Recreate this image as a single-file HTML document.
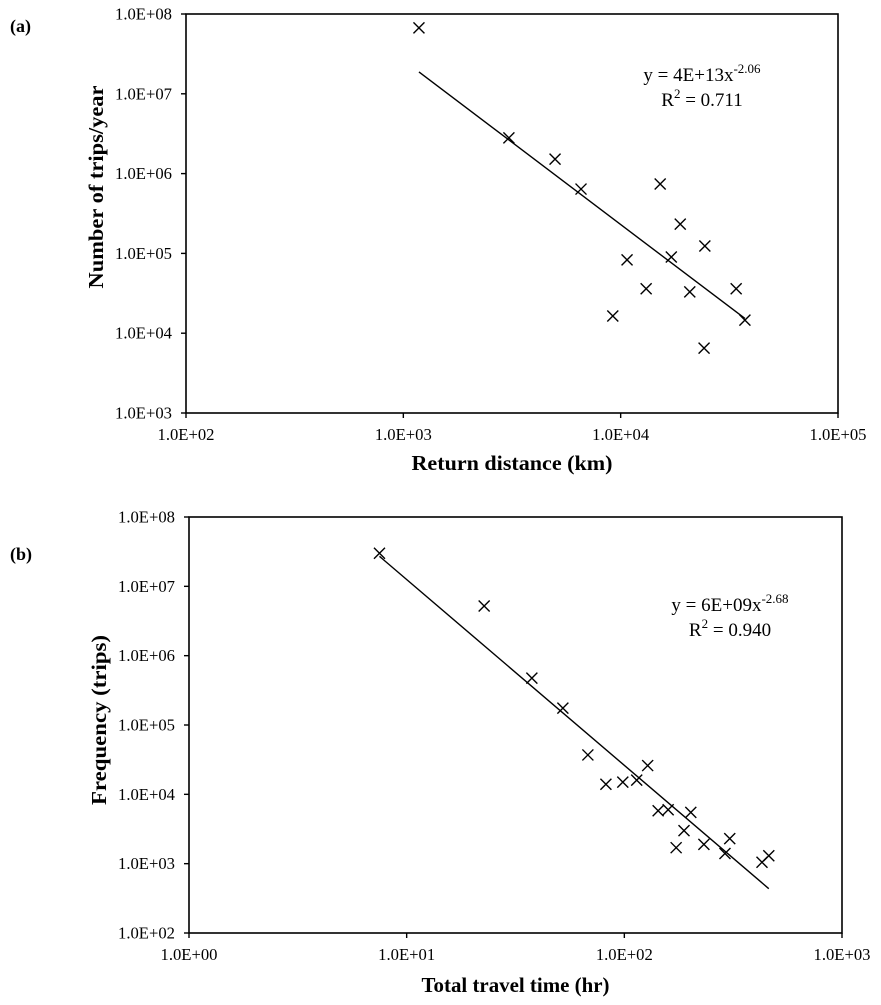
<!DOCTYPE html>
<html><head><meta charset="utf-8"><style>
html,body{margin:0;padding:0;background:#fff;}
svg text{font-family:"Liberation Serif",serif;fill:#000;}
</style></head><body>
<svg id="chart" width="881" height="1000" viewBox="0 0 881 1000" xmlns="http://www.w3.org/2000/svg"></svg>
<script>
// Panel (a) data
const aX = [1180, 3060, 4990, 6570, 15200, 18800, 24400, 17100, 10700, 13100, 20800, 34000, 37300, 9200, 24200];
const aY = [6.7e7, 2.8e6, 1.52e6, 6.4e5, 7.4e5, 2.33e5, 1.24e5, 9.0e4, 8.3e4, 3.6e4, 3.3e4, 3.6e4, 1.46e4, 1.64e4, 6.5e3];
const aFit = [4e13, -2.06];
const aXTicks = ["1.0E+02","1.0E+03","1.0E+04","1.0E+05"];
const aYTicks = ["1.0E+03","1.0E+04","1.0E+05","1.0E+06","1.0E+07","1.0E+08"];
// Panel (b) data
const bX = [7.5, 22.7, 37.6, 52.2, 68.0, 82.3, 98.4, 114, 128, 143, 159, 202, 188, 173, 232, 305, 290, 429, 461];
const bY = [3.0e7, 5.2e6, 4.75e5, 1.75e5, 3.7e4, 1.4e4, 1.5e4, 1.6e4, 2.6e4, 5.8e3, 6.0e3, 5.5e3, 3.0e3, 1.7e3, 1.9e3, 2.3e3, 1.4e3, 1.05e3, 1.3e3];
const bFit = [6e9, -2.68];
const bXTicks = ["1.0E+00","1.0E+01","1.0E+02","1.0E+03"];
const bYTicks = ["1.0E+02","1.0E+03","1.0E+04","1.0E+05","1.0E+06","1.0E+07","1.0E+08"];

const svg = document.getElementById('chart');
const NS = 'http://www.w3.org/2000/svg';
function el(tag, attrs, parent){const e=document.createElementNS(NS,tag);for(const k in attrs)e.setAttribute(k,attrs[k]);(parent||svg).appendChild(e);return e;}

function panel(o){
  const g = el('g',{});
  
  
  const sx = v => o.L + (Math.log10(v)-o.x0)/(o.x1-o.x0)*(o.R-o.L);
  const sy = v => o.B - (Math.log10(v)-o.y0)/(o.y1-o.y0)*(o.B-o.T);
  const fr = el('rect',{x:o.L,y:o.T,width:o.R-o.L,height:o.B-o.T,fill:'none',stroke:'#000','stroke-width':1.6},g);
  
  
  o.yTicks.forEach((t,i)=>{
    const y = o.B - i*(o.B-o.T)/(o.yTicks.length-1);
    el('line',{x1:o.L-5,x2:o.L,y1:y,y2:y,stroke:'#000','stroke-width':1.4},g);
    const tx = el('text',{x:o.L-14,y:y+5.5,'text-anchor':'end','font-size':17,textLength:57,lengthAdjust:'spacingAndGlyphs'},g);
    tx.textContent = t;
    
    
  });
  o.xTicks.forEach((t,i)=>{
    const x = o.L + i*(o.R-o.L)/(o.xTicks.length-1);
    el('line',{x1:x,x2:x,y1:o.B,y2:o.B+5,stroke:'#000','stroke-width':1.4},g);
    const tx = el('text',{x:x,y:o.B+27,'text-anchor':'middle','font-size':17,textLength:57,lengthAdjust:'spacingAndGlyphs'},g);
    tx.textContent = t;
    
    
  });
  const f = x => o.fit[0]*Math.pow(x,o.fit[1]);
  const xmin = Math.min(...o.xs), xmax = Math.max(...o.xs);
  const tl = el('line',{x1:sx(xmin),y1:sy(f(xmin)),x2:sx(xmax),y2:sy(f(xmax)),stroke:'#000','stroke-width':1.4},g);
  
  
  o.xs.forEach((xv,i)=>{
    const cx = sx(xv), cy = sy(o.ys[i]), s=5.5;
    const p = el('path',{d:`M${cx-s},${cy-s}L${cx+s},${cy+s}M${cx-s},${cy+s}L${cx+s},${cy-s}`,stroke:'#000','stroke-width':1.4,fill:'none'},g);
    
    
  });
  const eq = el('text',{x:o.eqX,y:o.eqY,'text-anchor':'middle','font-size':19},g);
  
  
  eq.innerHTML = o.eq + '<tspan dy="-8" font-size="13">' + o.exp + '</tspan>';
  const r2 = el('text',{x:o.eqX,y:o.eqY+25,'text-anchor':'middle','font-size':19},g);
  
  
  r2.innerHTML = 'R<tspan dy="-8" font-size="13">2</tspan><tspan dy="8"> = ' + o.r2 + '</tspan>';
  const xt = el('text',{x:(o.L+o.R)/2,y:o.xtY,'text-anchor':'middle','font-size':21,'font-weight':'bold',textLength:o.xtLen,lengthAdjust:'spacingAndGlyphs'},g);
  xt.textContent = o.xTitle;
  
  
  const yt = el('text',{x:0,y:0,'text-anchor':'middle','font-size':21,'font-weight':'bold',textLength:o.ytLen,lengthAdjust:'spacingAndGlyphs',transform:`translate(${o.ytX},${o.ytC}) rotate(-90)`},g);
  yt.textContent = o.yTitle;
  
  
  const pl = el('text',{x:10,y:o.lblY,'font-size':18,'font-weight':'bold'},g);
  pl.textContent = o.label;
  
  
}

panel({name:'panel-a',L:186,R:838,T:14,B:413,x0:2,x1:5,y0:3,y1:8,xs:aX,ys:aY,fit:aFit,xTicks:aXTicks,yTicks:aYTicks,
  eq:'y = 4E+13x',exp:'-2.06',r2:'0.711',eqX:702,eqY:81,xTitle:'Return distance (km)',xtLen:201,yTitle:'Number of trips/year',ytLen:203,ytX:103,ytC:187,xtY:470,label:'(a)',lblY:32});
panel({name:'panel-b',L:189,R:842,T:517,B:933,x0:0,x1:3,y0:2,y1:8,xs:bX,ys:bY,fit:bFit,xTicks:bXTicks,yTicks:bYTicks,
  eq:'y = 6E+09x',exp:'-2.68',r2:'0.940',eqX:730,eqY:611,xTitle:'Total travel time (hr)',xtLen:188,yTitle:'Frequency (trips)',ytLen:170,ytX:106,ytC:720,xtY:992,label:'(b)',lblY:560});
</script>
</body></html>
